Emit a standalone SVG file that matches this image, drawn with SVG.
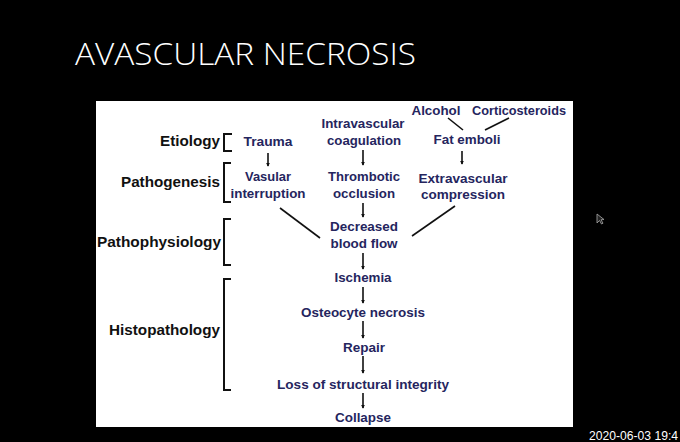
<svg xmlns="http://www.w3.org/2000/svg" width="680" height="442" viewBox="0 0 680 442">
<defs>
<marker id="ah" viewBox="0 0 6 6" refX="5" refY="3" markerWidth="4" markerHeight="4" orient="auto" markerUnits="userSpaceOnUse">
<path d="M0,0 L6,3 L0,6 Z" fill="#111"/>
</marker>
<style>
.t{font-family:"Liberation Sans",Arial,sans-serif;font-weight:bold;font-size:13px;fill:#25255e;text-anchor:middle}
.l{font-family:"Liberation Sans",Arial,sans-serif;font-weight:bold;font-size:15px;fill:#111;text-anchor:end}
.br{fill:none;stroke:#111;stroke-width:2}
.c{stroke:#111;stroke-width:1.6;fill:none}
.a{marker-end:url(#ah)}
</style>
</defs>
<rect x="0" y="0" width="680" height="442" fill="#000"/>
<text x="75" y="65" font-family="'Open Sans','Liberation Sans',sans-serif" font-weight="300" font-size="32" fill="#fff" textLength="341" lengthAdjust="spacingAndGlyphs">AVASCULAR NECROSIS</text>
<rect x="96" y="101" width="477" height="326" fill="#fff"/>

<g id="labels">
<g id="lab-etiology"><text class="l" x="220" y="146" textLength="60" lengthAdjust="spacingAndGlyphs">Etiology</text><path class="br" d="M232,134 H224 V151 H232"/></g>
<g id="lab-pathogenesis"><text class="l" x="220" y="187" textLength="99" lengthAdjust="spacingAndGlyphs">Pathogenesis</text><path class="br" d="M231,163 H224 V202 H231"/></g>
<g id="lab-pathophysiology"><text class="l" x="221" y="247" textLength="124" lengthAdjust="spacingAndGlyphs">Pathophysiology</text><path class="br" d="M231,219 H224 V265 H231"/></g>
<g id="lab-histopathology"><text class="l" x="220" y="335" textLength="111" lengthAdjust="spacingAndGlyphs">Histopathology</text><path class="br" d="M231,279 H224 V390 H231"/></g>
</g>

<g id="n-trauma"><text class="t" x="268" y="146" textLength="49" lengthAdjust="spacingAndGlyphs">Trauma</text></g>
<g id="n-vasular"><text class="t" x="268" y="181" textLength="46" lengthAdjust="spacingAndGlyphs">Vasular</text><text class="t" x="268" y="198" textLength="75" lengthAdjust="spacingAndGlyphs">interruption</text></g>
<g id="n-intravascular"><text class="t" x="363" y="128" textLength="83" lengthAdjust="spacingAndGlyphs">Intravascular</text><text class="t" x="364" y="145" textLength="74" lengthAdjust="spacingAndGlyphs">coagulation</text></g>
<g id="n-thrombotic"><text class="t" x="364" y="181" textLength="72" lengthAdjust="spacingAndGlyphs">Thrombotic</text><text class="t" x="364" y="198" textLength="62" lengthAdjust="spacingAndGlyphs">occlusion</text></g>
<g id="n-decreased"><text class="t" x="364" y="231" textLength="68" lengthAdjust="spacingAndGlyphs">Decreased</text><text class="t" x="364" y="248" textLength="67" lengthAdjust="spacingAndGlyphs">blood flow</text></g>
<g id="n-alcohol"><text class="t" x="436" y="115" textLength="49" lengthAdjust="spacingAndGlyphs">Alcohol</text></g>
<g id="n-corticosteroids"><text class="t" x="519" y="115" textLength="94" lengthAdjust="spacingAndGlyphs">Corticosteroids</text></g>
<g id="n-fatemboli"><text class="t" x="467" y="144" textLength="67" lengthAdjust="spacingAndGlyphs">Fat emboli</text></g>
<g id="n-extravascular"><text class="t" x="463" y="183" textLength="89" lengthAdjust="spacingAndGlyphs">Extravascular</text><text class="t" x="463" y="199" textLength="84" lengthAdjust="spacingAndGlyphs">compression</text></g>
<g id="n-ischemia"><text class="t" x="363" y="282" textLength="57" lengthAdjust="spacingAndGlyphs">Ischemia</text></g>
<g id="n-osteocyte"><text class="t" x="363" y="317" textLength="124" lengthAdjust="spacingAndGlyphs">Osteocyte necrosis</text></g>
<g id="n-repair"><text class="t" x="364" y="352" textLength="42" lengthAdjust="spacingAndGlyphs">Repair</text></g>
<g id="n-loss"><text class="t" x="363" y="389" textLength="172" lengthAdjust="spacingAndGlyphs">Loss of structural integrity</text></g>
<g id="n-collapse"><text class="t" x="363" y="422" textLength="56" lengthAdjust="spacingAndGlyphs">Collapse</text></g>

<g id="connectors">
<line class="c a" x1="268" y1="153" x2="268" y2="166"/>
<line class="c a" x1="363" y1="150" x2="363" y2="165"/>
<line class="c a" x1="363" y1="203" x2="363" y2="217"/>
<line class="c a" x1="462" y1="151" x2="462" y2="164"/>
<line class="c" x1="448" y1="118" x2="463" y2="130"/>
<line class="c" x1="509" y1="118" x2="485" y2="130"/>
<line class="c" x1="280" y1="208" x2="320" y2="238"/>
<line class="c" x1="455" y1="206" x2="412" y2="236"/>
<line class="c a" x1="363" y1="253" x2="363" y2="269"/>
<line class="c a" x1="363" y1="287" x2="363" y2="303"/>
<line class="c a" x1="363" y1="321" x2="363" y2="338"/>
<line class="c a" x1="363" y1="356" x2="363" y2="373"/>
<line class="c a" x1="363" y1="393" x2="363" y2="408"/>
</g>

<path d="M597,214 L597,223 L599.5,220.5 L601.5,224 L603,223.2 L601,219.8 L604,219.5 Z" fill="#222" stroke="#aaa" stroke-width="0.8"/>
<text x="589" y="440" font-family="'Liberation Sans',Arial,sans-serif" font-size="12" fill="#fff" textLength="89" lengthAdjust="spacingAndGlyphs">2020-06-03 19:4</text>
</svg>
